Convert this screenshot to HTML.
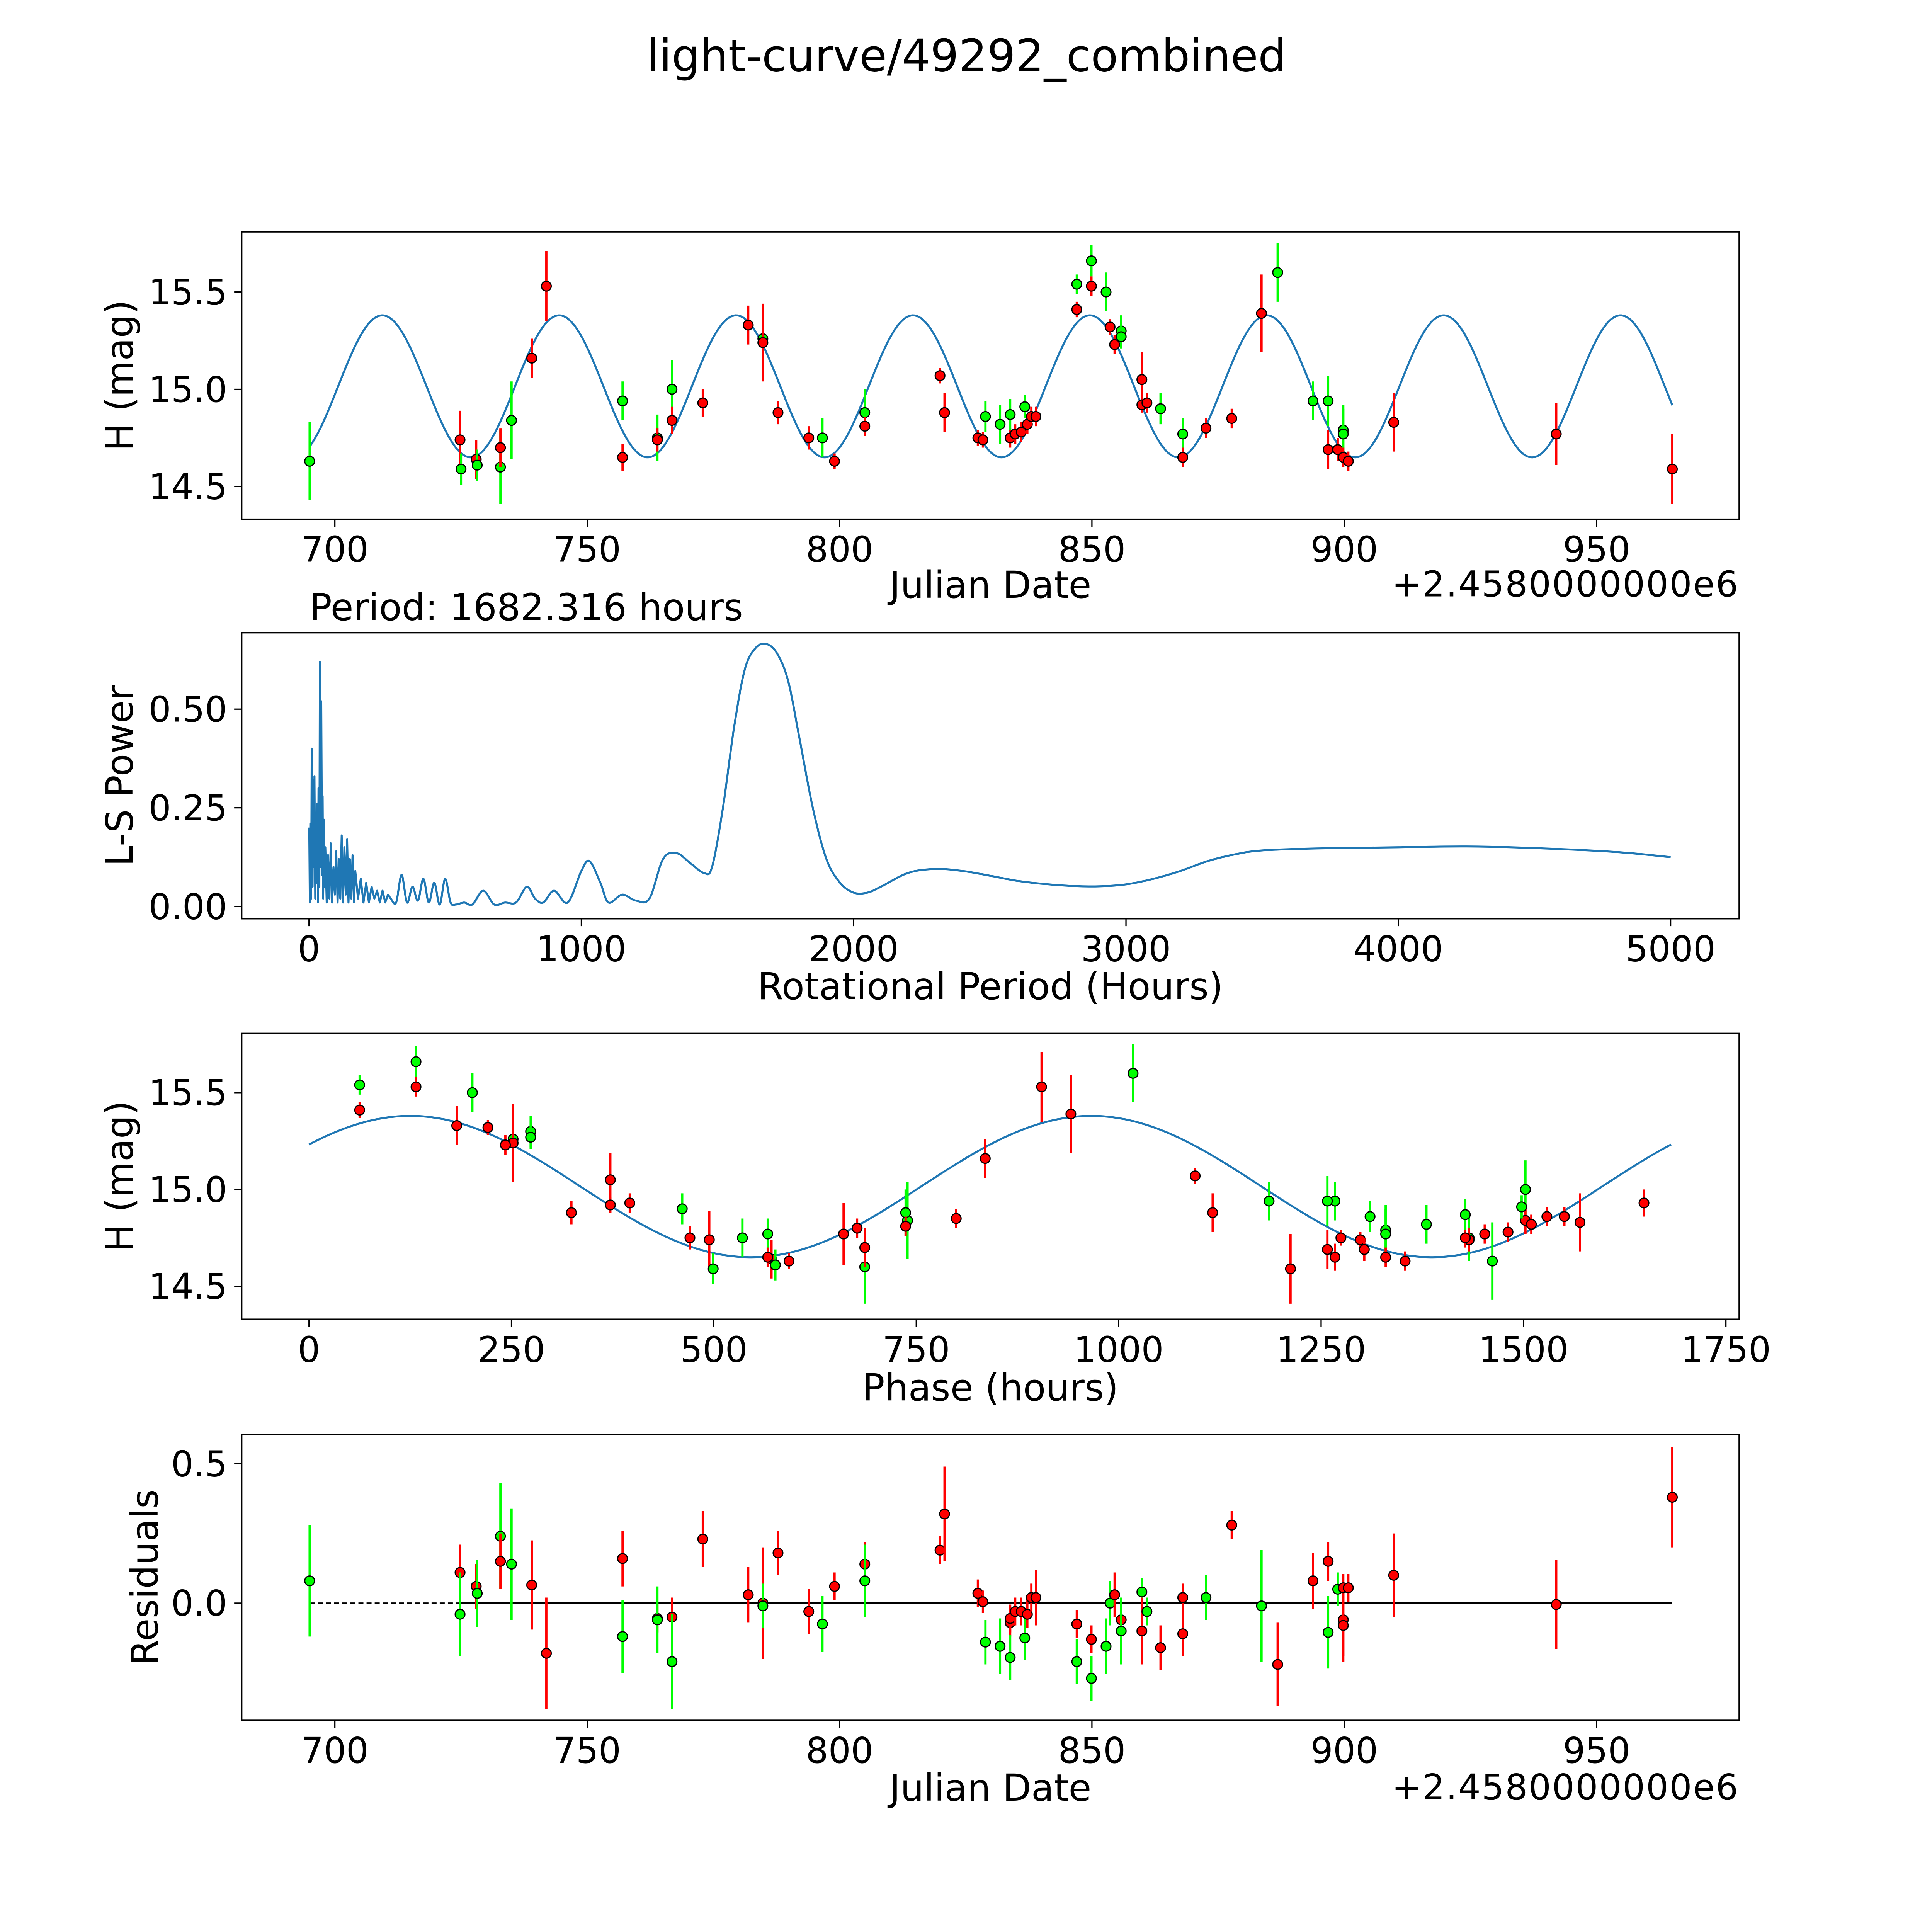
<!DOCTYPE html>
<html><head><meta charset="utf-8"><style>
html,body{margin:0;padding:0;background:#fff;overflow:hidden;width:100vw;height:100vh}
svg{display:block;width:100vw;height:100vh}
text{font-family:"DejaVu Sans","Liberation Sans",sans-serif;fill:#000}
</style></head><body>
<svg id="fig" xmlns="http://www.w3.org/2000/svg" viewBox="0 0 1545 1545" preserveAspectRatio="none">
<rect width="1545" height="1545" fill="#fff"/>
<text x="773" y="57" font-size="35.7" text-anchor="middle">light-curve/49292_combined</text>
<g id="g1"></g>
<g id="g2"></g>
<g id="g3"></g>
<g id="g4"></g>
</svg>
<script>
// ---- data ----
const obsDates=[695.0,724.8,725.0,728.0,728.2,732.8,732.8,735.0,739.0,741.9,757.0,757.0,763.9,763.9,766.8,766.8,772.9,781.9,784.8,784.8,787.8,793.9,796.6,799.0,805.0,805.0,819.9,820.8,827.4,828.4,828.9,831.8,833.8,833.8,834.8,836.0,836.7,837.2,838.0,838.9,847.0,847.0,849.9,849.9,852.8,853.6,854.5,855.8,855.8,859.9,859.9,860.9,863.6,868.0,868.0,872.6,877.7,883.6,886.8,893.8,896.8,896.8,898.7,899.8,899.8,899.8,900.8,909.8,942.0,965.0];
const obsMags=[14.63,14.74,14.59,14.64,14.61,14.60,14.70,14.84,15.16,15.53,14.94,14.65,14.75,14.74,15.0,14.84,14.93,15.33,15.26,15.24,14.88,14.75,14.75,14.63,14.88,14.81,15.07,14.88,14.75,14.74,14.86,14.82,14.75,14.87,14.77,14.78,14.91,14.82,14.86,14.86,15.54,15.41,15.66,15.53,15.5,15.32,15.23,15.30,15.27,15.05,14.92,14.93,14.90,14.77,14.65,14.80,14.85,15.39,15.60,14.94,14.94,14.69,14.69,14.79,14.77,14.65,14.63,14.83,14.77,14.59];
const obsErrs=[.2,.15,.08,.1,.08,.19,.1,.2,.1,.18,.1,.07,.12,.06,.15,.07,.07,.1,.1,.2,.06,.06,.1,.04,.12,.05,.04,.1,.04,.04,.08,.1,.05,.08,.05,.05,.06,.05,.05,.05,.05,.04,.08,.05,.1,.04,.05,.08,.06,.14,.04,.05,.08,.08,.05,.05,.05,.2,.15,.1,.13,.1,.06,.13,.13,.05,.05,.15,.16,.18];
const obsColors="grgrggrgrrgrgrgrrrgrrrgrgrrrrrggrgrrgrrrgrgrgrrggrrrggrrrrgggrrggrrrrr".split("");
const resDates=[695.0,724.8,724.8,728.0,728.2,732.8,732.8,735.0,739.0,741.9,757.0,757.0,763.9,763.9,766.8,766.8,772.9,781.9,784.8,784.8,787.8,793.9,796.6,799.0,805.0,805.0,819.9,820.8,827.4,828.4,828.9,831.8,833.8,833.8,833.8,834.8,836.0,836.7,837.2,838.0,838.9,847.0,847.0,849.9,849.9,852.8,853.6,854.5,855.8,855.8,859.9,859.9,860.9,863.6,868.0,868.0,872.6,877.7,883.6,886.8,893.8,896.8,896.8,898.7,899.8,899.8,899.8,900.8,909.8,942.0,965.0];
const resVals=[.08,.11,-.04,.06,.035,.24,.15,.14,.065,-.18,.16,-.12,-.055,-.06,-.05,-.21,.23,.03,0,-.01,.18,-.03,-.075,.06,.14,.08,.19,.32,.035,.005,-.14,-.155,-.07,-.055,-.195,-.03,-.03,-.125,-.04,.02,.02,-.075,-.21,-.13,-.27,-.155,0,.03,-.06,-.1,.04,-.1,-.03,-.16,.02,-.11,.02,.28,-.01,-.22,.08,.15,-.105,.05,-.06,-.08,.055,.055,.10,-.005,.38];
const resErrs=[.2,.1,.15,.08,.12,.19,.1,.2,.16,.2,.1,.13,.05,.12,.07,.17,.1,.1,.2,.08,.08,.08,.1,.05,.08,.13,.05,.17,.05,.04,.08,.1,.05,.05,.08,.05,.05,.08,.05,.05,.1,.05,.08,.05,.08,.1,.08,.08,.08,.12,.05,.12,.05,.08,.05,.08,.08,.05,.2,.15,.1,.07,.13,.06,.13,.13,.05,.05,.15,.16,.18];
const resColors="grgrggrgrrrgrgrgrrrgrrgrrgrrrrggrrgrrgrrrrgrgggrrggrgrrrgrgrrrggrrrrrrr".split("");
const lsPeriods=[1,3,5,8,10,13,15,18,20,23,25,28,30,33,35,38,40,43,45,48,50,52,55,58,60,65,70,75,80,85,90,95,100,105,110,115,120,125,130,135,140,145,150,155,160,165,170,180,190,200,210,220,230,240,250,260,270,280,290,300,320,340,360,380,400,420,440,460,480,500,520,540,570,600,640,680,720,760,800,830,860,900,950,1000,1030,1070,1100,1150,1200,1250,1300,1350,1400,1450,1480,1520,1560,1600,1640,1680,1720,1760,1800,1850,1900,1950,2000,2050,2100,2200,2300,2400,2500,2600,2700,2800,2900,3000,3100,3200,3300,3400,3500,3700,4000,4250,4500,4800,5000];
const lsPowers=[0.2,0.01,0.21,0.02,0.4,0.05,0.32,0.1,0.33,0.02,0.2,0.06,0.26,0.01,0.3,0.05,0.62,0.1,0.52,0.08,0.28,0.02,0.22,0.05,0.15,0.01,0.13,0.02,0.16,0.01,0.1,0.03,0.14,0.01,0.12,0.02,0.18,0.01,0.15,0.03,0.17,0.01,0.12,0.02,0.13,0.01,0.09,0.02,0.07,0.01,0.06,0.01,0.05,0.02,0.04,0.01,0.04,0.01,0.03,0.02,0.01,0.08,0.01,0.05,0.015,0.07,0.01,0.06,0.005,0.07,0.01,0.005,0.01,0.005,0.04,0.005,0.01,0.01,0.05,0.02,0.01,0.04,0.01,0.09,0.115,0.06,0.01,0.03,0.015,0.02,0.12,0.135,0.11,0.085,0.1,0.25,0.45,0.6,0.655,0.665,0.64,0.57,0.43,0.25,0.12,0.06,0.035,0.035,0.05,0.085,0.095,0.09,0.078,0.065,0.057,0.052,0.051,0.056,0.07,0.09,0.115,0.132,0.142,0.147,0.15,0.152,0.148,0.138,0.125];
const jdTicks=[700,750,800,850,900,950];
const magTicks=[14.5,15.0,15.5];
const lsXTicks=[0,1000,2000,3000,4000,5000];
const lsYTicks=[0,0.25,0.5];
const phTicks=[0,250,500,750,1000,1250,1500,1750];
const resTicks=[0,0.5];
const periodHours=1682.316, modelMean=15.015, modelAmp=0.365, modelPeak=709.4, epoch=704.2;

// ---- helpers ----
const NS="http://www.w3.org/2000/svg";
function mk(tag,attrs,parent){const e=document.createElementNS(NS,tag);for(const k in attrs)e.setAttribute(k,attrs[k]);parent.appendChild(e);return e;}
const L=193.3,R=1390.8;
const xJD=d=>267.8+(d-700)*4.036;
const y1=m=>233.5-(m-15.5)*155.6;
const xLS=p=>247.1+p*(1088.9/5000);
const y2=p=>724.9-p*315.6;
const xPH=h=>247.1+h*(1133.1/1750);
const y3=m=>873.8-(m-15.5)*154.8;
const y4=r=>1282-r*222.8;
const Pd=periodHours/24;
const model=d=>modelMean+modelAmp*Math.cos(2*Math.PI*(d-modelPeak)/(Pd/2));
const FS=28.3, LFS=29.7;

function frame(g,top,bot,xt,xf,yt,yf,ylab,ydec,name){
  const b=mk('rect',{x:L,y:top,width:R-L,height:bot-top,fill:'none',stroke:'#000','stroke-width':1.1},g);
  
  
  xt.forEach(v=>{const x=xf(v);mk('line',{x1:x,x2:x,y1:bot,y2:bot+6,stroke:'#000','stroke-width':1},g);
    const t=mk('text',{x:x,y:bot+34,'font-size':FS,'text-anchor':'middle'},g);t.textContent=v;
    
    });
  yt.forEach(v=>{const y=yf(v);mk('line',{x1:L-6,x2:L,y1:y,y2:y,stroke:'#000','stroke-width':1},g);
    const t=mk('text',{x:L-11.5,y:y+10,'font-size':FS,'text-anchor':'end'},g);t.textContent=v.toFixed(ydec);
    
    });
  const yl=mk('text',{x:0,y:0,'font-size':LFS,'text-anchor':'middle',transform:`translate(${ylab[1]},${(top+bot)/2}) rotate(-90)`},g);
  yl.textContent=ylab[0];
  
  
}
function xtitle(g,txt,y){const t=mk('text',{x:792,y:y,'font-size':LFS,'text-anchor':'middle'},g);t.textContent=txt;
  
  }
function pts(g,xs,ys,es,cs,xf,yf){
  for(let i=0;i<xs.length;i++){const col=cs[i]==='g'?'#00ff00':'#ff0000';const x=xf(xs[i]),y=yf(ys[i]);
    const eb=mk('line',{x1:x,x2:x,y1:yf(ys[i]-es[i]),y2:yf(ys[i]+es[i]),stroke:col,'stroke-width':1.8},g);
    
    
    const c=mk('circle',{cx:x,cy:y,r:3.9,fill:col,stroke:'#000','stroke-width':0.9},g);
    
    }
}
function curve(g,f,x0,x1,xf,yf,n,name){let d='';for(let i=0;i<=n;i++){const v=x0+(x1-x0)*i/n;d+=(i?'L':'M')+xf(v).toFixed(2)+','+yf(f(v)).toFixed(2);}
  const p=mk('path',{d:d,fill:'none',stroke:'#1f77b4','stroke-width':1.6},g);
  
  }
function offsetLabel(g,y){
  const o=mk('text',{x:1390,y:y,'font-size':FS,'text-anchor':'end',textLength:277,lengthAdjust:'spacing'},g);
  o.textContent='+2.4580000000e6';
  
  
}

// Panel 1
const g1=document.getElementById('g1');
frame(g1,185.4,415.2,jdTicks,xJD,magTicks,y1,['H (mag)',106],1,'light-curve');
curve(g1,model,obsDates[0],obsDates[obsDates.length-1],xJD,y1,800,'model-curve');
pts(g1,obsDates,obsMags,obsErrs,obsColors,xJD,y1);
xtitle(g1,'Julian Date',478);
offsetLabel(g1,477);

// Panel 2
const g2=document.getElementById('g2');
frame(g2,506,734.7,lsXTicks,xLS,lsYTicks,y2,['L-S Power',106],2,'periodogram');
{const P=lsPeriods.map((p,i)=>[xLS(p),y2(lsPowers[i])]);
 let d='M'+P[0][0].toFixed(2)+','+P[0][1].toFixed(2);
 for(let i=0;i<P.length-1;i++){
   const p0=P[Math.max(0,i-1)],p1=P[i],p2=P[i+1],p3=P[Math.min(P.length-1,i+2)];
   if(lsPeriods[i]<300){d+='L'+p2[0].toFixed(2)+','+p2[1].toFixed(2);continue;}
   const c1=[p1[0]+(p2[0]-p0[0])/6,p1[1]+(p2[1]-p0[1])/6],c2=[p2[0]-(p3[0]-p1[0])/6,p2[1]-(p3[1]-p1[1])/6];
   d+='C'+c1[0].toFixed(2)+','+c1[1].toFixed(2)+' '+c2[0].toFixed(2)+','+c2[1].toFixed(2)+' '+p2[0].toFixed(2)+','+p2[1].toFixed(2);
 }
 const p=mk('path',{d:d,fill:'none',stroke:'#1f77b4','stroke-width':1.6,'stroke-linejoin':'round'},g2);
 
 }
let pt=mk('text',{x:247.5,y:496,'font-size':LFS},g2);pt.textContent='Period: '+periodHours.toFixed(3)+' hours';


xtitle(g2,'Rotational Period (Hours)',799);

// Panel 3
const g3=document.getElementById('g3');
frame(g3,826.4,1055,phTicks,xPH,magTicks,y3,['H (mag)',106],1,'phase');
curve(g3,h=>modelMean+modelAmp*Math.cos(2*Math.PI*(h-125)/(periodHours/2)),0,periodHours,xPH,y3,600,'phase-model-curve');
const phases=obsDates.map(d=>(((d-epoch)%Pd)+Pd)%Pd*24);
pts(g3,phases,obsMags,obsErrs,obsColors,xPH,y3);
xtitle(g3,'Phase (hours)',1120);

// Panel 4
const g4=document.getElementById('g4');
frame(g4,1147,1375.7,jdTicks,xJD,resTicks,y4,['Residuals',126],1,'residuals');
{const z=y4(0);
 const a=mk('line',{x1:xJD(resDates[0]),x2:xJD(resDates[resDates.length-1]),y1:z,y2:z,stroke:'#000','stroke-width':1.1,'stroke-dasharray':'4,2.5'},g4);
 
 
 const b=mk('line',{x1:xJD(resDates[1]),x2:xJD(resDates[resDates.length-1]),y1:z,y2:z,stroke:'#000','stroke-width':1.6},g4);
 
 }
pts(g4,resDates,resVals,resErrs,resColors,xJD,y4);
xtitle(g4,'Julian Date',1440);
offsetLabel(g4,1439);
</script>
</body></html>
